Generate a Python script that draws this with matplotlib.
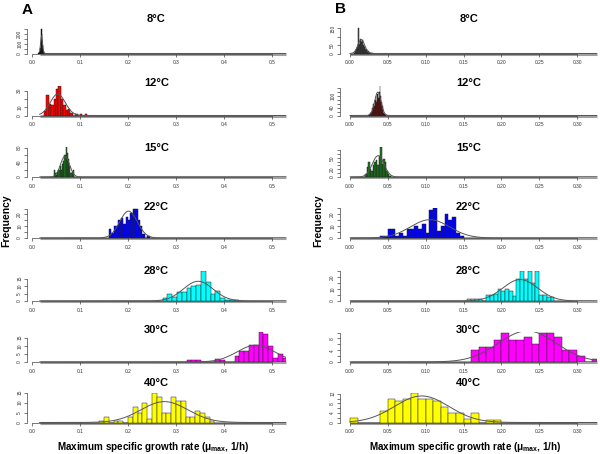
import numpy as np
import matplotlib
matplotlib.use("Agg")
import matplotlib.pyplot as plt

plt.rcParams["font.family"] = ["Liberation Sans", "DejaVu Sans"]
plt.rcParams["mathtext.fontset"] = "custom"
plt.rcParams["mathtext.rm"] = "Liberation Sans"
plt.rcParams["mathtext.bf"] = "Liberation Sans:bold"

TEMPS = ["8°C", "12°C", "15°C", "22°C", "28°C", "30°C", "40°C"]
COLORS_A = ["black", "red", "#1a7f1a", "blue", "cyan", "magenta", "yellow"]
COLORS_B = ["#4d4d4d", "darkred", "#1a7f1a", "blue", "cyan", "magenta", "yellow"]

# panel A: first bin edge, bin width, counts
A_BIN0 = [0.013, 0.025, 0.045, 0.160, 0.272, 0.322, 0.140]
A_BINW = [0.001, 0.005, 0.0025, 0.005, 0.01, 0.01, 0.01]
A08 = [3, 8, 15, 30, 60, 120, 250, 200, 90, 50, 30, 15, 8, 4, 2]
A12 = [6, 25, 14, 13, 20, 32, 36, 20, 13, 7, 8, 3, 0, 2, 0, 2, 0, 2]
A15 = [20, 10, 5, 15, 20, 30, 20, 35, 45, 60, 82, 65, 50, 30, 10, 15, 20]
A22 = [8, 4, 10, 10, 15, 17, 12, 18, 15, 21, 25, 25, 15, 10, 3, 0, 2]
A28 = [2, 5, 3, 6, 6, 9, 10, 11, 20, 13, 5, 7, 2, 1, 1, 1]
A30 = [1.5, 1.5, 1.5, 0, 0, 0, 2, 1, 0, 0,
       4, 6.5, 6.5, 10.5, 10.5, 18.5, 17, 10, 2.5, 5, 2.5]
A40 = [1, 3, 0, 1, 1, 0, 3, 8, 5, 10, 2, 15, 13, 5, 5, 13, 11, 11, 3, 3, 6, 5, 3, 1]

# panel B
B_BIN0 = [0.005, 0.024, 0.020, 0.040, 0.155, 0.160, 0.000]
B_BINW = [0.001, 0.001, 0.002, 0.005, 0.005, 0.01, 0.01]
B08 = [5, 8, 15, 25, 40, 55, 150, 60, 90, 75, 70, 80, 50, 45, 40, 30, 20, 25,
       10, 15, 5, 10, 5, 3, 2]
B12 = [5, 3, 10, 15, 20, 40, 30, 60, 50, 80, 100, 70, 110, 90, 120, 150, 100,
       70, 50, 30, 15, 8, 3, 2]
B15 = [8, 25, 38, 22, 15, 30, 40, 45, 30, 55, 78, 35, 48, 40, 15, 8, 3]
B22 = [2, 2, 7.5, 7.5, 2, 4, 2, 7.5, 7.5, 10, 7.5, 12, 4, 23, 25, 6, 10, 20,
       15, 17.5, 4, 2]
B28 = [2, 2, 2, 2, 0, 5, 5, 6, 10, 8, 10, 8, 4, 18, 25, 18, 25, 15, 25, 5, 5, 3, 3]
B30 = [4, 5, 5, 7.5, 10, 7.5, 7.5, 8.5, 6, 10, 10, 8.5, 4, 4, 2, 0, 1]
B40 = [2, 0, 0, 0, 5, 10, 9, 10, 12.5, 10, 10, 9, 6.5, 4, 4, 1.5, 4, 0, 1, 1]

# y ticks and which labels R kept
A_YTICKS = [[0, 50, 100, 150, 200, 250], [0, 10, 20, 30], [0, 20, 40, 60, 80],
            [0, 5, 10, 15, 20, 25], [0, 5, 10, 15], [0, 5, 10, 15], [0, 5, 10, 15]]
A_YLABELS = [["0", "", "100", "", "200", ""], ["0", "10", "", "30"],
             ["0", "", "40", "", "80"], ["0", "", "10", "", "20", ""],
             ["0", "5", "10", "15"], ["0", "5", "10", "15"], ["0", "5", "10", "15"]]
B_YTICKS = [[0, 50, 100, 150], [0, 20, 40, 60, 80, 100, 120, 140],
            [0, 10, 20, 30, 40, 50, 60, 70], [0, 5, 10, 15, 20, 25],
            [0, 5, 10, 15, 20, 25], [0, 2, 4, 6, 8, 10], [0, 2, 4, 6, 8, 10, 12]]
B_YLABELS = [["0", "50", "", "150"], ["0", "", "40", "", "", "100", "", ""],
             ["0", "", "20", "", "", "50", "", ""], ["0", "", "10", "", "20", ""],
             ["0", "", "10", "", "20", ""], ["0", "", "4", "", "8", ""],
             ["0", "", "4", "", "8", "", "12"]]
A_YTOP = [300, 36, 82, 25.5, 20, 18.5, 15]
B_YTOP = [180, 150, 78, 25, 25, 10.2, 12.5]

A_XTICKS = [0.0, 0.1, 0.2, 0.3, 0.4, 0.5]
B_XTICKS = [0.0, 0.05, 0.10, 0.15, 0.20, 0.25, 0.30]

W, H = 600, 454
BASE_PX = [53.5, 115.5, 177, 238, 301, 362, 422.5]
TITLE_PX = [18.5, 82.5, 148, 207, 271, 330, 383.5]
AX_H = 30


def panel(fig, left, right, base, xlim, x0, counts, width, color, yticks, ylabels,
          ytop, xticks, xfmt, line_start):
    ax = fig.add_axes([left / W, (H - base) / H, (right - left) / W, AX_H / H])
    counts = np.asarray(counts, float)
    edges = x0 + width * np.arange(len(counts))
    ax.plot([line_start, xlim[1]], [0, 0], color="#a0a0a0", lw=2.2,
            solid_capstyle="butt", zorder=1, clip_on=False)
    ax.bar(edges, counts, width=width, align="edge", color=color,
           edgecolor="#222222", linewidth=0.35, zorder=2)
    # normal curve fitted to the binned data, scaled to counts
    mids = edges + width / 2
    n = counts.sum()
    mu = (counts * mids).sum() / n
    sd = np.sqrt((counts * (mids - mu) ** 2).sum() / n)
    xs = np.linspace(line_start, xlim[1], 500)
    ys = n * width * np.exp(-0.5 * ((xs - mu) / sd) ** 2) / (sd * np.sqrt(2 * np.pi))
    ax.plot(xs, ys, color="#555555", lw=0.7, zorder=3)
    ax.set_xlim(*xlim)
    ax.set_ylim(0, ytop)
    for s in ("top", "right"):
        ax.spines[s].set_visible(False)
    for s in ("left", "bottom"):
        ax.spines[s].set_linewidth(0.5)
        ax.spines[s].set_color("#444444")
    ax.spines["left"].set_bounds(0, yticks[-1])
    ax.spines["bottom"].set_bounds(xticks[0], xticks[-1])
    ax.set_xticks(xticks)
    ax.set_xticklabels([xfmt.format(v) for v in xticks])
    ax.set_yticks(yticks)
    ax.set_yticklabels(ylabels, rotation=90, va="center")
    ax.tick_params(length=2, width=0.5, color="#444444", labelsize=3.5,
                   labelcolor="#333333", pad=1.5)
    ax.tick_params(axis="x", pad=3)
    ax.patch.set_visible(False)
    return ax


def main() -> None:
    fig = plt.figure(figsize=(6.0, 4.54), dpi=100)

    a_data = [A08, A12, A15, A22, A28, A30, A40]
    b_data = [B08, B12, B15, B22, B28, B30, B40]
    for i in range(7):
        panel(fig, 27, 286, BASE_PX[i], (-0.0104, 0.529), A_BIN0[i], a_data[i],
              A_BINW[i], COLORS_A[i], A_YTICKS[i], A_YLABELS[i], A_YTOP[i],
              A_XTICKS, "{:.1f}", 0.016)
        panel(fig, 340, 597, BASE_PX[i], (-0.0132, 0.3264), B_BIN0[i], b_data[i],
              B_BINW[i], COLORS_B[i], B_YTICKS[i], B_YLABELS[i], B_YTOP[i],
              B_XTICKS, "{:.2f}", 0.0)
        for cx in (156.5, 468.5):
            fig.text(cx / W, 1 - TITLE_PX[i] / H, TEMPS[i], ha="center",
                     va="center", fontsize=8, fontweight="bold")

    xlabel = "Maximum specific growth rate (μ$_{\\mathbf{max}}$, 1/h)"
    for cx in (153.5, 465):
        fig.text(cx / W, 1 - 447 / H, xlabel, ha="center", va="center",
                 fontsize=7.1, fontweight="bold")
    for cx in (6, 318):
        fig.text(cx / W, 1 - 221 / H, "Frequency", rotation=90, ha="center",
                 va="center", fontsize=7.5, fontweight="bold")
    fig.text(27 / W, 1 - 9.5 / H, "A", ha="center", va="center", fontsize=11,
             fontweight="bold")
    fig.text(341 / W, 1 - 9 / H, "B", ha="center", va="center", fontsize=11,
             fontweight="bold")

    fig.savefig("out.png", dpi=100)


if __name__ == "__main__":
    main()
